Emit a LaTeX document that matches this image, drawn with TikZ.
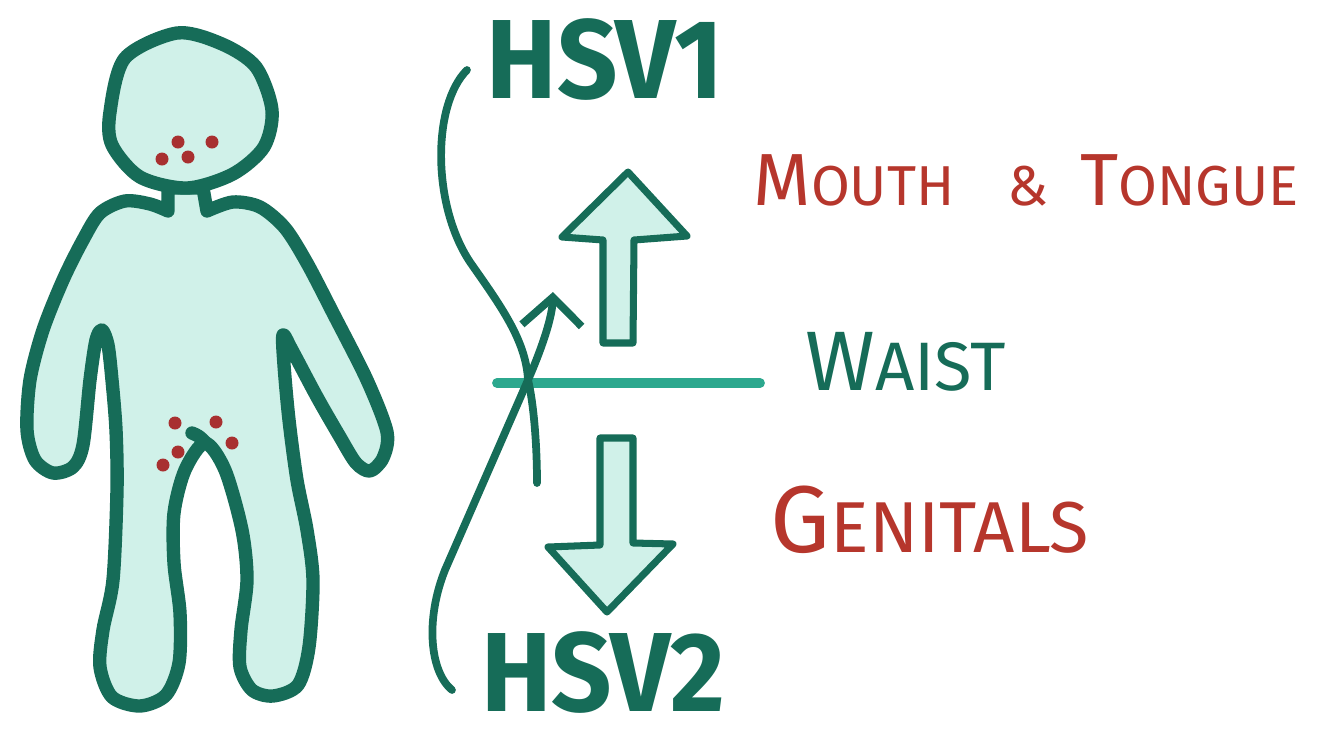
\documentclass[tikz,border=0pt]{standalone}
\usepackage{fontspec}
\setmainfont{Fira Sans}
\usepackage{tikz}
\usetikzlibrary{arrows.meta}
\definecolor{skin}{RGB}{208,241,233}
\definecolor{pine}{RGB}{22,108,88}
\definecolor{waistline}{RGB}{44,168,142}
\definecolor{sore}{RGB}{168,48,48}
\definecolor{brick}{RGB}{182,54,44}
\newcommand{\hw}[2]{{\fontsize{#1pt}{#1pt}\selectfont #2}}

\begin{document}
\begin{tikzpicture}[x=0.01cm,y=-0.01cm,line cap=round,line join=round,
	outline/.style={draw=pine,line width=3.8pt,fill=skin},
	pox/.style={fill=sore},
	virus/.style={draw=pine,line width=2.2pt},
	block/.style={draw=pine,line width=2pt,fill=skin},
	hsv/.style={text=pine,font=\bfseries\fontsize{32pt}{32pt}\selectfont,xscale=0.94,inner sep=0pt},
	sitelabel/.style={text=brick,font=\mdseries},
	waistlabel/.style={text=pine,font=\mdseries}]
	\useasboundingbox (0,0) rectangle (1321,733);

	% body, then the head on top of the neck
	\filldraw[outline] (168,188) -- plot[smooth] coordinates {(168,211) (150,204) (125,201) (100,213) (83,240) (63,280) (43,330) (30,380) (27,430) (35,460) (53,473) (73,467) (83,445) (90,380) (96,340) (102,330) (108,345) (112,380) (116,430) (117,490) (113,580) (103,630) (100,667) (112,697) (140,706) (166,695) (179,663) (180,613) (174,563) (174,513) (185,470) (205,443) (225,470) (242,530) (247,580) (241,630) (240,667) (252,690) (273,696) (298,685) (309,647) (313,580) (307,530) (297,480) (289,420) (284,365) (283,335) (292,350) (317,397) (340,437) (356,463) (370,471) (383,458) (387,432) (367,380) (333,313) (307,263) (285,228) (260,207) (233,202) (207,211)} -- (203,188) -- cycle;
	\filldraw[outline] plot[smooth cycle] coordinates {(110,112) (125,58) (177,33) (222,44) (256,67) (272,110) (264,147) (233,174) (187,188) (140,177) (112,145)};
	\draw[pine,line width=3.8pt] (192,433) .. controls (199,436) .. (206,443);
	\foreach \p in {(178,142),(212,142),(188,157),(162,159),(175,423),(216,422),(178,452),(163,465),(232,443)}
		\fill[pox] \p circle (6.5);

	\node[hsv] (hsv1) at (605,60) {HSV1};
	\node[hsv] (hsv2) at (603,672) {HSV2};

	\coordinate (cross) at (528,380);
	\coordinate (v1start) at (467,70);
	\coordinate (v1end) at (537,483);
	\coordinate (v2start) at (452,690);
	\coordinate (v2tip) at (553,292);

	\draw[waistline,line width=2.8pt] (497,383) -- (760,383);
	\draw[virus] (v1start) .. controls (432,105) and (432,205) .. (470,262) .. controls (500,305) and (526,340) .. (cross) .. controls (533,400) and (537,440) .. (v1end);
	\draw[virus,-{Straight Barb[length=8pt,width=17pt]}] (v2start) .. controls (430,672) and (425,620) .. (445,570) -- (cross) .. controls (539,355) and (552,320) .. (v2tip);

	\draw[block] (628,172) -- (687,236) -- (634,240) -- (633,343) -- (603,343) -- (603,240) -- (562,237) -- cycle;
	\draw[block] (600,438) -- (633,438) -- (633,543) -- (673,544) -- (607,612) -- (548,547) -- (600,545) -- cycle;

	\node[sitelabel] (mouth) at (1026,180) {\hw{21}{M}\hw{16}{OUTH}\hspace{15pt}\hw{16}{\&}\hspace{9pt}\hw{21}{T}\hw{16}{ONGUE}};
	\node[waistlabel] (waist) at (906,362) {\hw{24}{W}\hw{19.5}{AIST}};
	\node[sitelabel] (genitals) at (930,520) {\hw{27}{G}\hw{20.5}{ENITALS}};
\end{tikzpicture}
\end{document}
